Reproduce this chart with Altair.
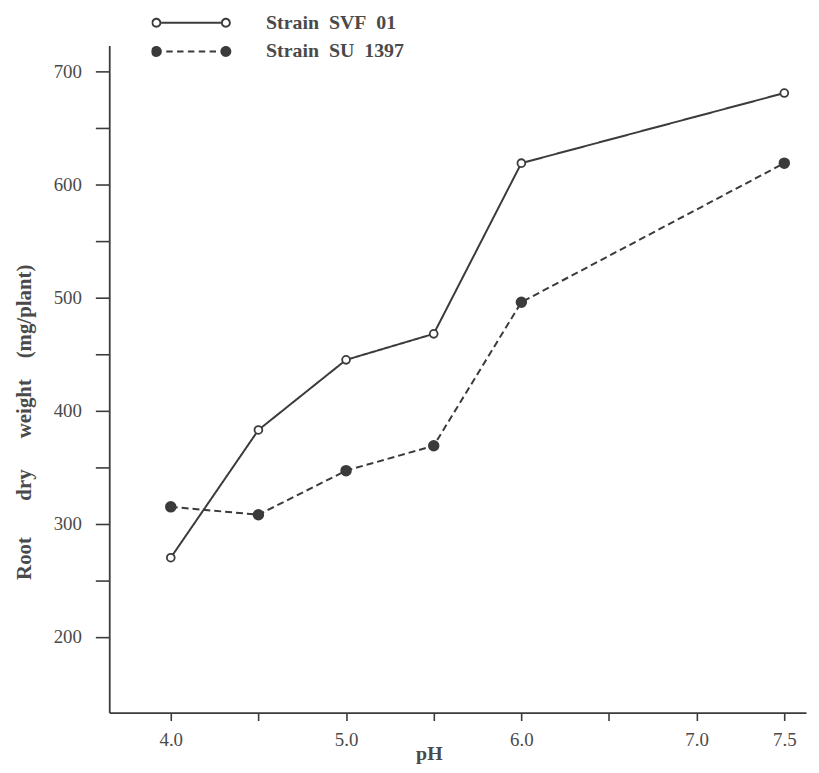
import altair as alt
import pandas as pd

# ---- data ----
ph = [4.0, 4.5, 5.0, 5.5, 6.0, 7.5]
svf01 = [270, 383, 445, 468, 619, 681]
su1397 = [315, 308, 347, 369, 496, 619]
series_names = ["Strain SVF 01", "Strain SU 1397"]
x_ticks = [4.0, 4.5, 5.0, 5.5, 6.0, 6.5, 7.0, 7.5]
x_labelled = [4.0, 5.0, 6.0, 7.0, 7.5]
y_ticks = [200, 250, 300, 350, 400, 450, 500, 550, 600, 650, 700]

rows = []
for name, vals in zip(series_names, [svf01, su1397]):
    for p, v in zip(ph, vals):
        rows.append({"pH": p, "weight": v, "series": name})
df = pd.DataFrame(rows)

INK = "#3b3b3b"
TXT = "#4a4a4a"
FONT = "Liberation Serif"
NB = "\u00a0"

# ---- legend symbols (line with circles at both ends), unit coords ----
U = 40.0


def circle(cx, r, sweep):
    return (f"M{cx - r:.4f},0 A{r:.4f},{r:.4f} 0 1,{sweep} {cx + r:.4f},0 "
            f"A{r:.4f},{r:.4f} 0 1,{sweep} {cx - r:.4f},0 Z ")


def rect(x0, x1, h):
    return f"M{x0:.4f},{-h:.4f} L{x1:.4f},{-h:.4f} L{x1:.4f},{h:.4f} L{x0:.4f},{h:.4f} Z "


c = 35 / U
ro, ri, rf, hw = 5 / U, 3.1 / U, 5.5 / U, 1.0 / U
path_open = (circle(-c, ro, 1) + circle(-c, ri, 0) +
             rect(-c + ro, c - ro, hw) +
             circle(c, ro, 1) + circle(c, ri, 0))
span_l, span_r = -35 + 5.5, 35 - 5.5
d, g = 6.5, (span_r - span_l - 5 * 6.5) / 6
dashes = ""
for i in range(5):
    x0 = span_l + g + i * (d + g)
    dashes += rect(x0 / U, (x0 + d) / U, hw)
path_filled = circle(-c, rf, 1) + dashes + circle(c, rf, 1)

xscale = alt.Scale(domain=[3.649, 7.624], nice=False, zero=False)
yscale = alt.Scale(domain=[133, 723], nice=False, zero=False)

x_enc = alt.X("pH:Q", scale=xscale, axis=alt.Axis(
    title="pH", values=x_ticks, grid=False,
    labelExpr="indexof(" + str(x_labelled) + ", datum.value) >= 0 ? format(datum.value, '.1f') : ''",
    labelFont=FONT, labelFontSize=19, labelColor=TXT, labelPadding=10,
    tickSize=8, tickColor=INK, tickWidth=1.6, domainColor=INK, domainWidth=1.8,
    titleFont=FONT, titleFontSize=20, titleFontWeight="bold", titleColor=TXT,
    titleX=322, titleY=41, titleAlign="center", titleBaseline="middle"))
y_enc = alt.Y("weight:Q", scale=yscale, axis=alt.Axis(
    title=f"Root{NB*7}dry{NB*6}weight{NB*4}(mg/plant)", values=y_ticks, grid=False,
    labelExpr="datum.value % 100 == 0 ? datum.label : ''",
    labelFont=FONT, labelFontSize=19, labelColor=TXT, labelPadding=14,
    tickSize=14, tickColor=INK, tickWidth=1.6, domainColor=INK, domainWidth=1.8,
    titleFont=FONT, titleFontSize=21, titleFontWeight="bold", titleColor=TXT,
    titleAngle=270, titleX=-85, titleY=379, titleAlign="center", titleBaseline="middle"))

base = alt.Chart(df)
styles = {
    series_names[0]: dict(dash=[1, 0], fill="white", size=62),
    series_names[1]: dict(dash=[7, 4], fill=INK, size=95),
}

layers = []
for name in series_names:
    st = styles[name]
    sub = base.transform_filter(alt.datum.series == name)
    layers.append(sub.mark_line(color=INK, strokeWidth=2, strokeDash=st["dash"]).encode(x=x_enc, y=y_enc))
for name in series_names:
    st = styles[name]
    sub = base.transform_filter(alt.datum.series == name)
    layers.append(sub.mark_point(filled=False, stroke=INK, fill=st["fill"], strokeWidth=1.8,
                                 size=st["size"], opacity=1).encode(x=x_enc, y=y_enc))

# legend carrier: its marks sit outside the clipped view, only its legend shows
legend_carrier = base.transform_calculate(hidden="-100000").mark_point(
    filled=True, color=INK, opacity=1, strokeWidth=0, clip=True).encode(
    x=x_enc,
    y=alt.Y("hidden:Q", scale=yscale),
    shape=alt.Shape("series:N", scale=alt.Scale(domain=series_names, range=[path_open, path_filled]),
                    legend=alt.Legend(
                        title=None, orient="none", legendX=42.5, legendY=-31, padding=0, offset=0,
                        symbolSize=(2 * U) ** 2, symbolStrokeWidth=0, symbolFillColor=INK,
                        clipHeight=16, rowPadding=9, labelOffset=35.5, labelLimit=400,
                        labelFont=FONT, labelFontSize=20, labelFontWeight="bold", labelColor=TXT,
                        labelExpr="replace(replace(datum.label, ' ', '\u00a0\u00a0'), ' ', '\u00a0\u00a0')")),
)
layers.append(legend_carrier)

chart = alt.layer(*layers).properties(
    width=702, height=672,
    padding={"left": 102, "top": 35, "right": 5, "bottom": 56},
    autosize=alt.AutoSizeParams(type="none"),
    background="white",
).configure_view(stroke=None)

chart.save("out.html", embed_options={"renderer": "svg", "actions": False})
